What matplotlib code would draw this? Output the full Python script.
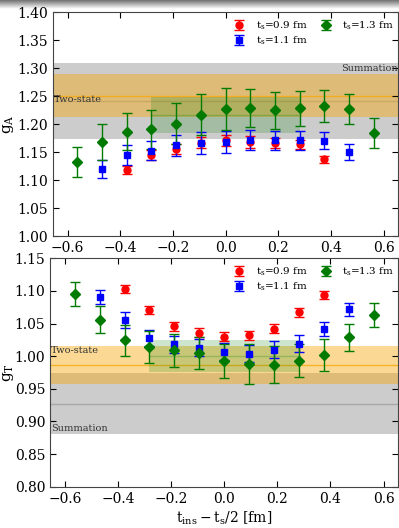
import numpy as np
import matplotlib
matplotlib.use("Agg")
import matplotlib.pyplot as plt

plt.rcParams['font.family'] = ['DejaVu Serif']
plt.rcParams['mathtext.fontset'] = 'dejavuserif'

a = 0.0938
# x positions (t_ins - t_s/2) in fm
x09 = np.arange(-4, 5) * a
x11 = np.arange(-5, 6) * a
x13 = np.arange(-6, 7) * a

# g_A data
gA_09 = [1.118, 1.145, 1.156, 1.167, 1.171, 1.168, 1.167, 1.164, 1.137]
gA_09e = [0.007, 0.009, 0.009, 0.010, 0.010, 0.010, 0.009, 0.008, 0.006]
gA_11 = [1.120, 1.144, 1.152, 1.162, 1.166, 1.168, 1.172, 1.171, 1.171, 1.170, 1.150]
gA_11e = [0.016, 0.018, 0.017, 0.019, 0.020, 0.020, 0.018, 0.017, 0.017, 0.015, 0.014]
gA_13 = [1.132, 1.168, 1.186, 1.191, 1.201, 1.217, 1.227, 1.228, 1.225, 1.228, 1.232, 1.227, 1.184]
gA_13e = [0.027, 0.032, 0.033, 0.035, 0.037, 0.037, 0.037, 0.034, 0.033, 0.031, 0.029, 0.027, 0.026]

# g_T data
gT_09 = [1.103, 1.071, 1.046, 1.036, 1.030, 1.032, 1.042, 1.067, 1.094]
gT_09e = [0.006, 0.006, 0.007, 0.007, 0.007, 0.007, 0.007, 0.007, 0.006]
gT_11 = [1.091, 1.055, 1.028, 1.018, 1.013, 1.007, 1.004, 1.010, 1.019, 1.042, 1.072]
gT_11e = [0.011, 0.012, 0.012, 0.013, 0.013, 0.013, 0.013, 0.013, 0.013, 0.011, 0.010]
gT_13 = [1.095, 1.056, 1.024, 1.014, 1.009, 1.005, 0.993, 0.988, 0.987, 0.993, 1.002, 1.029, 1.063]
gT_13e = [0.018, 0.021, 0.023, 0.025, 0.025, 0.025, 0.026, 0.030, 0.028, 0.025, 0.024, 0.021, 0.019]

# bands: (low, center, high)
gA_sum = (1.173, 1.241, 1.309)
gA_two = (1.212, 1.251, 1.289)
gA_plat = (1.184, 1.216, 1.248)
gT_sum = (0.881, 0.927, 0.974)
gT_two = (0.957, 0.986, 1.016)
gT_plat = (0.976, 1.000, 1.024)
plat_x = (-3 * a, 3 * a)

xticks = [-0.6, -0.4, -0.2, 0.0, 0.2, 0.4, 0.6]
xticklabels = ['\u22120.6', '\u22120.4', '\u22120.2', '0.0', '0.2', '0.4', '0.6']

fig = plt.figure(figsize=(3.99, 5.28), dpi=100)

# top screenshot shadow
gax = fig.add_axes([0, 0.983, 1, 0.017])
grad = np.linspace(0.45, 1.0, 20).reshape(-1, 1)
gax.imshow(grad, aspect='auto', cmap='gray', vmin=0, vmax=1, extent=[0, 1, 0, 1])
gax.axis('off')

ax1 = fig.add_axes([0.133, 0.553, 0.865, 0.424])
ax2 = fig.add_axes([0.126, 0.078, 0.872, 0.433])

grey = '#cccccc'
grey_line = '#a8a8a8'
orange = '#f8a90b'
green_band = '#008000'

def draw_panel(ax, d09, e09, d11, e11, d13, e13, summ, two, plat, ylim, yticks):
    xl = (-0.655, 0.655)
    ax.axhspan(summ[0], summ[2], color=grey, lw=0, zorder=0)
    ax.axhline(summ[1], color=grey_line, lw=1.0, zorder=0.5)
    ax.axhspan(two[0], two[2], color=orange, alpha=0.43, lw=0, zorder=1)
    ax.axhline(two[1], color=orange, lw=1.0, alpha=0.8, zorder=1.5)
    ax.fill_between(plat_x, plat[0], plat[2], color=green_band, alpha=0.2, lw=0, zorder=2)
    ax.plot(plat_x, [plat[1], plat[1]], color=green_band, alpha=0.25, lw=1.0, zorder=2.5)
    kw = dict(capsize=3.3, elinewidth=1.0, capthick=1.0, ls='none', zorder=4)
    ax.errorbar(x09, d09, yerr=e09, fmt='o', color='#ff0000', ms=5, label=r'$\mathrm{t_s}$=0.9 fm', **kw)
    ax.errorbar(x11, d11, yerr=e11, fmt='s', color='#0000ff', ms=5, label=r'$\mathrm{t_s}$=1.1 fm', **kw)
    ax.errorbar(x13, d13, yerr=e13, fmt='D', color='#007a00', ms=5, label=r'$\mathrm{t_s}$=1.3 fm', **kw)
    ax.set_xlim(*xl)
    ax.set_ylim(*ylim)
    ax.set_xticks(xticks)
    ax.set_xticklabels(xticklabels)
    ax.set_yticks(yticks)
    ax.set_yticklabels(['%.2f' % v for v in yticks])
    ax.tick_params(direction='in', top=True, right=True, labelsize=10, length=4, width=0.8)
    for s in ax.spines.values():
        s.set_color('#444444')
    leg = ax.legend(ncol=2, loc='upper right', bbox_to_anchor=(1.0, 0.985), frameon=False,
                    fontsize=7.5, handletextpad=0.8, columnspacing=1.0, borderaxespad=0.0,
                    labelspacing=0.25, handlelength=1.5, numpoints=1)
    for h in leg.legend_handles:
        try:
            h.set_markersize(5)
        except Exception:
            pass

draw_panel(ax1, gA_09, gA_09e, gA_11, gA_11e, gA_13, gA_13e, gA_sum, gA_two, gA_plat,
           (1.00, 1.40), [1.00, 1.05, 1.10, 1.15, 1.20, 1.25, 1.30, 1.35, 1.40])
draw_panel(ax2, gT_09, gT_09e, gT_11, gT_11e, gT_13, gT_13e, gT_sum, gT_two, gT_plat,
           (0.80, 1.15), [0.80, 0.85, 0.90, 0.95, 1.00, 1.05, 1.10, 1.15])

ax1.set_ylabel(r'$\mathrm{g_A}$', fontsize=11)
ax2.set_ylabel(r'$\mathrm{g_T}$', fontsize=11)
ax1.yaxis.set_label_coords(-0.108, 0.5)
ax2.yaxis.set_label_coords(-0.098, 0.5)
ax2.set_xlabel(r'$\mathrm{t_{ins} - t_s/2}$ [fm]', fontsize=10, labelpad=3)

ax1.text(0.655, 1.300, 'Summation', ha='right', va='center', fontsize=7, color='#333333', zorder=5)
ax1.text(-0.652, 1.244, 'Two-state', ha='left', va='center', fontsize=7, color='#333333', zorder=5)
ax2.text(-0.652, 1.008, 'Two-state', ha='left', va='center', fontsize=7, color='#333333', zorder=5)
ax2.text(-0.652, 0.890, 'Summation', ha='left', va='center', fontsize=7, color='#333333', zorder=5)

fig.savefig('out.png', dpi=100)
